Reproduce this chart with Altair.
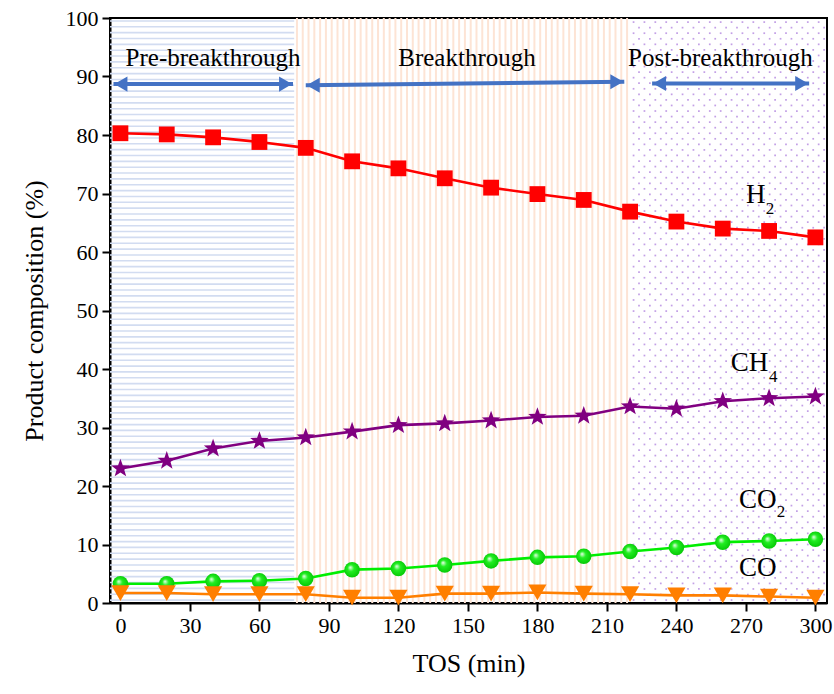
import altair as alt
import numpy as np
import pandas as pd

# ---- data ----
tos = [0, 20, 40, 60, 80, 100, 120, 140, 160, 180, 200, 220, 240, 260, 280, 300]
h2 = [80.3, 80.1, 79.6, 78.8, 77.8, 75.5, 74.3, 72.6, 71.0, 69.9, 68.9, 66.9, 65.2, 64.0, 63.6, 62.5]
ch4 = [23.0, 24.3, 26.4, 27.7, 28.3, 29.3, 30.4, 30.7, 31.2, 31.8, 32.0, 33.6, 33.2, 34.5, 35.0, 35.3]
co2 = [3.3, 3.3, 3.7, 3.8, 4.2, 5.7, 5.9, 6.5, 7.2, 7.8, 8.0, 8.8, 9.5, 10.4, 10.6, 10.9]
co = [1.7, 1.7, 1.5, 1.5, 1.5, 0.9, 0.9, 1.6, 1.6, 1.8, 1.6, 1.5, 1.3, 1.3, 1.1, 0.9]

region_names = ["Pre-breakthrough", "Breakthrough", "Post-breakthrough"]
region_start = [-4.5, 75, 220]
region_end = [75, 220, 305]
region_label_x = [40, 149.6, 259]
region_label_y = [93.1, 93.1, 93.1]

arrow_x1 = [-3, 80, 229.5]
arrow_x2 = [74.5, 217.5, 297.3]
arrow_y1 = [88.7, 88.5, 88.8]
arrow_y2 = [88.7, 89.1, 88.8]

species_main = ["H", "CH", "CO", "CO"]
species_main_x = [270, 263.5, 267, 267]
species_main_y = [69.7, 41.0, 17.6, 6.0]
species_sub = ["2", "4", "2"]
species_sub_x = [278.6, 280.0, 283.3]
species_sub_y = [67.3, 38.6, 15.5]

X_DOM = [-4.5, 305]
Y_DOM = [0, 100]
FONT = "Liberation Serif"

df = pd.DataFrame({"tos": tos, "h2": h2, "ch4": ch4, "co2": co2, "co": co})

xs = alt.Scale(domain=X_DOM, nice=False, zero=False)
ys = alt.Scale(domain=Y_DOM, nice=False, zero=False)

# ---- background patterns (decoration) ----
pre_lines = pd.DataFrame({"y": np.arange(0.5, 100, 1.0)})
pre_lines["x1"] = region_start[0]
pre_lines["x2"] = region_end[0]
pre = alt.Chart(pre_lines).mark_rule(color="#d2dcf1", strokeWidth=1.6).encode(
    x=alt.X("x1:Q", scale=xs), x2="x2:Q", y=alt.Y("y:Q", scale=ys))

brk_lines = pd.DataFrame({"x": np.arange(region_start[1] + 1.2, region_end[1], 2.5)})
brk_lines["y1"] = 0
brk_lines["y2"] = 100
brk = alt.Chart(brk_lines).mark_rule(color="#fde4d5", strokeWidth=2).encode(
    x=alt.X("x:Q", scale=xs), y=alt.Y("y1:Q", scale=ys), y2="y2:Q")

dots = []
for i, yy in enumerate(np.arange(0.5, 100, 0.95)):
    off = 0 if i % 2 == 0 else 2.35
    for xx in np.arange(region_start[2] + 1.5 + off, region_end[2], 4.7):
        dots.append((xx, yy))
dot_df = pd.DataFrame(dots, columns=["x", "y"])
post = alt.Chart(dot_df).mark_square(color="#c3a0e6", size=3, opacity=1).encode(
    x=alt.X("x:Q", scale=xs), y=alt.Y("y:Q", scale=ys))

# ---- series ----
base = alt.Chart(df)
xenc = alt.X("tos:Q", scale=xs,
             axis=alt.Axis(values=list(range(0, 301, 30)), title="TOS (min)"))

def series(col, color, shape, size, fill=None):
    yenc = alt.Y(f"{col}:Q", scale=ys,
                 axis=alt.Axis(values=list(range(0, 101, 10)), title="Product composition (%)"))
    line = base.mark_line(color=color, strokeWidth=2.6).encode(x=xenc, y=yenc)
    kw = dict(shape=shape, size=size, filled=True, opacity=1)
    if fill is not None:
        kw["fill"] = fill
    else:
        kw["color"] = color
    pts = base.mark_point(**kw).encode(x=xenc, y=yenc)
    return line + pts

green_grad = alt.RadialGradient(
    gradient="radial",
    stops=[alt.GradientStop(offset=0, color="#f0fff0"),
           alt.GradientStop(offset=0.35, color="#22ee22"),
           alt.GradientStop(offset=1, color="#00c000")],
    x1=0.38, y1=0.35, r1=0, x2=0.5, y2=0.5, r2=0.6)

star = "M0,-1L0.24,-0.33L0.95,-0.31L0.39,0.13L0.59,0.81L0,0.41L-0.59,0.81L-0.39,0.13L-0.95,-0.31L-0.24,-0.33Z"
s_h2 = series("h2", "#ff0000", "square", 250)
s_ch4 = series("ch4", "#800080", star, 380)
s_co2 = series("co2", "#00ee00", "circle", 240, fill=green_grad)
s_co = series("co", "#ff7f00", "triangle-down", 330)

# ---- region labels and arrows ----
reg = pd.DataFrame({"name": region_names, "lx": region_label_x, "ly": region_label_y,
                    "x1": arrow_x1, "x2": arrow_x2, "y1": arrow_y1, "y2": arrow_y2})
reg_text = alt.Chart(reg).mark_text(font=FONT, fontSize=25, color="black").encode(
    x=alt.X("lx:Q", scale=xs), y=alt.Y("ly:Q", scale=ys), text="name:N")
arrow_color = "#4472c4"
shaft = alt.Chart(reg).mark_rule(color=arrow_color, strokeWidth=4).encode(
    x=alt.X("x1:Q", scale=xs), x2="x2:Q", y=alt.Y("y1:Q", scale=ys), y2="y2:Q")
reg["hl"] = reg["x1"] + 3.2
reg["hr"] = reg["x2"] - 3.2
head_l = alt.Chart(reg).mark_point(shape="triangle-left", filled=True, size=230,
                                   color=arrow_color, opacity=1).encode(
    x=alt.X("hl:Q", scale=xs), y=alt.Y("y1:Q", scale=ys))
head_r = alt.Chart(reg).mark_point(shape="triangle-right", filled=True, size=230,
                                   color=arrow_color, opacity=1).encode(
    x=alt.X("hr:Q", scale=xs), y=alt.Y("y2:Q", scale=ys))

# ---- species labels ----
sp_main = pd.DataFrame({"t": species_main, "x": species_main_x, "y": species_main_y})
sp_sub = pd.DataFrame({"t": species_sub, "x": species_sub_x, "y": species_sub_y})
main_text = alt.Chart(sp_main).mark_text(font=FONT, fontSize=27, align="left",
                                         baseline="middle", color="black").encode(
    x=alt.X("x:Q", scale=xs), y=alt.Y("y:Q", scale=ys), text="t:N")
sub_text = alt.Chart(sp_sub).mark_text(font=FONT, fontSize=17, align="left",
                                       baseline="middle", color="black").encode(
    x=alt.X("x:Q", scale=xs), y=alt.Y("y:Q", scale=ys), text="t:N")

chart = alt.layer(
    pre, brk, post,
    s_h2, s_ch4, s_co2, s_co,
    shaft, head_l, head_r, reg_text,
    main_text, sub_text,
).properties(
    width=717, height=585,
    autosize=alt.AutoSizeParams(type="none"),
    padding={"left": 110, "top": 18, "right": 7, "bottom": 91},
    background="white",
).configure_view(
    stroke="black", strokeWidth=2
).configure_axis(
    grid=False, domainColor="black", domainWidth=2, tickColor="black",
    tickWidth=2, tickSize=8, labelFont=FONT, labelFontSize=22, labelColor="black",
    titleFont=FONT, titleFontSize=26, titleFontWeight="normal", titleColor="black",
    labelPadding=4,
).configure_axisX(titlePadding=14).configure_axisY(titlePadding=18)

chart.save("out.html", embed_options={"renderer": "svg", "actions": False})
